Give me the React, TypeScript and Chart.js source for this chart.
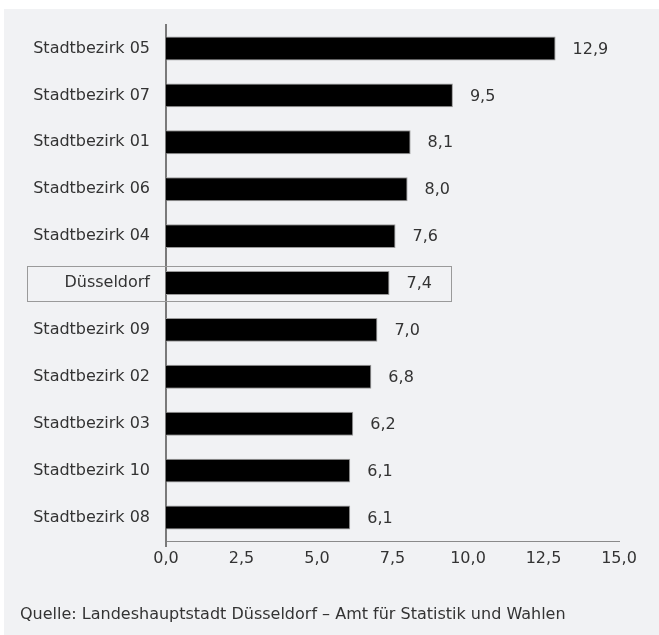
import React, { useEffect, useRef } from 'react';
import { Chart, registerables } from 'chart.js';

Chart.register(...registerables);

const categories = [
  'Stadtbezirk 05',
  'Stadtbezirk 07',
  'Stadtbezirk 01',
  'Stadtbezirk 06',
  'Stadtbezirk 04',
  'Düsseldorf',
  'Stadtbezirk 09',
  'Stadtbezirk 02',
  'Stadtbezirk 03',
  'Stadtbezirk 10',
  'Stadtbezirk 08',
];
const values = [12.9, 9.5, 8.1, 8.0, 7.6, 7.4, 7.0, 6.8, 6.2, 6.1, 6.1];
const xMin = 0;
const xMax = 15;
const xStep = 2.5;
const highlightCategory = 'Düsseldorf';
const sourceText = 'Quelle: Landeshauptstadt Düsseldorf – Amt für Statistik und Wahlen';

const FONT = '"DejaVu Sans", Verdana, sans-serif';
const FS = 16;
const TEXT = '#333333';
const AXIS = '#7a7a7a';
const fmt = (v: number) => v.toFixed(1).replace('.', ',');

const valueLabelPlugin = {
  id: 'valueLabels',
  afterDatasetsDraw(chart: any) {
    const ctx = chart.ctx;
    const meta = chart.getDatasetMeta(0);
    const area = chart.chartArea;
    ctx.save();
    // small extension of the y axis below the x axis
    ctx.strokeStyle = AXIS;
    ctx.lineWidth = 2;
    ctx.beginPath();
    ctx.moveTo(area.left, area.bottom);
    ctx.lineTo(area.left, area.bottom + 6);
    ctx.stroke();

    ctx.font = `${FS}px ${FONT}`;
    ctx.fillStyle = TEXT;
    ctx.textAlign = 'left';
    ctx.textBaseline = 'middle';
    meta.data.forEach((bar: any, i: number) => {
      ctx.fillText(fmt(values[i]), bar.x + 17, bar.y + 1);
    });
    // highlight box
    const idx = categories.indexOf(highlightCategory);
    if (idx >= 0) {
      const bar: any = meta.data[idx];
      const w = ctx.measureText(fmt(values[idx])).width;
      const left = area.left - 139;
      const right = bar.x + 17 + w + 19;
      const y = chart.scales.y.getPixelForValue(idx);
      ctx.strokeStyle = '#9a9a9a';
      ctx.lineWidth = 1;
      ctx.strokeRect(Math.round(left) + 0.5, Math.round(y - 17.5) + 0.5, Math.round(right - left), 35);
    }
    ctx.restore();
  },
};

export default function App() {
  const canvasRef = useRef<HTMLCanvasElement | null>(null);

  useEffect(() => {
    if (!canvasRef.current) return;
    const chart = new Chart(canvasRef.current, {
      type: 'bar',
      data: {
        labels: categories,
        datasets: [
          {
            data: values,
            backgroundColor: '#000000',
            borderColor: '#9a9a9a',
            borderWidth: 1,
            barPercentage: 0.51,
            categoryPercentage: 1,
          },
        ],
      },
      options: {
        indexAxis: 'y',
        animation: false,
        responsive: true,
        maintainAspectRatio: false,
        layout: { padding: { left: 0, top: 16, right: 40, bottom: 64 } },
        plugins: {
          legend: { display: false },
          tooltip: { enabled: false },
        },
        scales: {
          x: {
            type: 'linear',
            min: xMin,
            max: xMax,
            afterFit: (s: any) => {
              s.height = 30;
              s.paddingLeft = 0;
              s.paddingRight = 0;
            },
            grid: { display: false, drawTicks: false },
            border: { display: true, color: '#8a8a8a', width: 1 },
            ticks: {
              stepSize: xStep,
              padding: 8,
              color: TEXT,
              font: { family: FONT, size: FS },
              callback: (v: any) => fmt(Number(v)),
            },
          },
          y: {
            afterFit: (s: any) => {
              s.width = 162;
              s.paddingTop = 0;
              s.paddingBottom = 0;
            },
            grid: { display: false, drawTicks: false },
            border: { display: true, color: AXIS, width: 2 },
            ticks: {
              padding: 16,
              color: TEXT,
              font: { family: FONT, size: FS },
              autoSkip: false,
            },
          },
        },
      },
      plugins: [valueLabelPlugin],
    });
    return () => chart.destroy();
  }, []);

  return (
    <div
      style={{
        position: 'absolute',
        left: 4,
        top: 9,
        width: 655,
        height: 626,
        background: '#f1f2f4',
      }}
    >
      <div style={{ position: 'absolute', left: 0, top: 0, width: 655, height: 626 }}>
        <canvas ref={canvasRef} />
      </div>
      <div
        style={{
          position: 'absolute',
          left: 16,
          top: 595,
          fontFamily: FONT,
          fontSize: FS,
          lineHeight: '20px',
          color: TEXT,
          whiteSpace: 'nowrap',
        }}
      >
        {sourceText}
      </div>
    </div>
  );
}
